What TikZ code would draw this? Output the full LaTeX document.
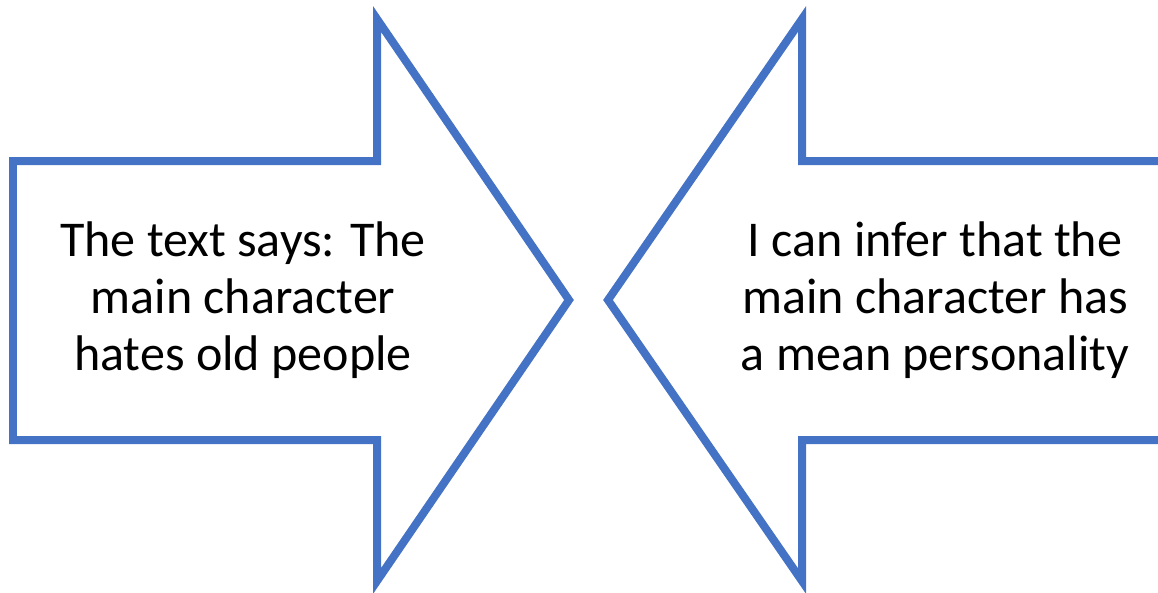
\documentclass[tikz,border=0pt]{standalone}
\usepackage{fontspec}
\setmainfont{Carlito}
\usepackage{tikz}
\usetikzlibrary{calc,positioning}
\definecolor{arrowblue}{RGB}{68,114,196}

\begin{document}
\begin{tikzpicture}[x=.02cm,y=-.02cm,line join=miter]
\useasboundingbox (0,0) rectangle (1158,592);
\clip (0,0) rectangle (1158,592);
\tikzset{shapeline/.style={draw=arrowblue,line width=.16cm},
 saytext/.style={align=center,font=\fontsize{28.5}{32.5}\selectfont,inner sep=0pt}}
\draw[shapeline] (13,161)--(377,161)--(377,19)--(569,300)--(377,581)--(377,440)--(13,440)--cycle;
\draw[shapeline] (1180,161)--(802,161)--(802,19)--(608,300)--(802,581)--(802,440)--(1180,440);
\node[saytext] (textsays) at (243,300) {The text says: The\\main character\\hates old people};
\node[saytext] (infer) at (935,300) {I can infer that the\\main character has\\a mean personality};
\end{tikzpicture}
\end{document}
